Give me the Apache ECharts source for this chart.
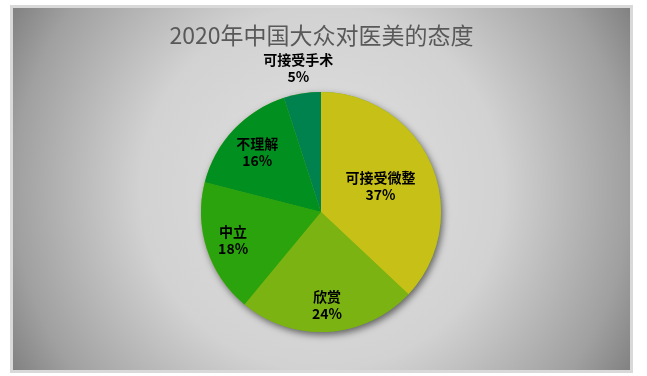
<!DOCTYPE html>
<html>
<head>
<meta charset="utf-8">
<script src="https://cdn.jsdelivr.net/npm/echarts@6/dist/echarts.min.js"></script>
<style>
  html, body { margin: 0; padding: 0; background: #fff; }
  #chart {
    position: absolute;
    left: 10px;
    top: 5px;
    width: 617px;
    height: 362px;
    border: 3px solid #d9d9d9;
  }
</style>
</head>
<body>
<div id="chart"></div>
<script>
const categories = ['可接受微整', '欣赏', '中立', '不理解', '可接受手术'];
const values = [37, 24, 18, 16, 5];
const colors = ['#c7c117', '#7bb312', '#2ba30c', '#01901f', '#00824f'];
const titleText = '2020年中国大众对医美的态度';

const el = document.getElementById('chart');
const chart = echarts.init(el);

const cx = 308, cy = 204, R = 120;
// how far out each label sits, as a share of the radius
const labelDist = [0.54, 0.78, 0.77, 0.73, 1.21];

const total = values.reduce((a, b) => a + b, 0);

const option = {
    animation: false,
    backgroundColor: {
        type: 'radial',
        x: 0.5, y: 0.5, r: 1,
        colorStops: [
            {offset: 0, color: '#e0e0e0'},
            {offset: 0.5, color: '#d2d2d2'},
            {offset: 0.85, color: '#a0a0a0'},
            {offset: 1, color: '#7f7f7f'}
        ]
    },
    title: {
        text: titleText,
        left: 'center',
        top: 11,
        textStyle: {
            fontFamily: 'Noto Sans CJK SC',
            fontSize: 23,
            fontWeight: 'normal',
            color: '#595959'
        }
    },
    series: [
        {
            // shadow under the whole pie
            type: 'pie',
            silent: true,
            center: [cx, cy],
            radius: R,
            label: {show: false},
            labelLine: {show: false},
            itemStyle: {
                color: colors[1],
                shadowBlur: 7,
                shadowOffsetX: 2,
                shadowOffsetY: 3,
                shadowColor: 'rgba(0,0,0,0.55)'
            },
            data: [{value: total}]
        },
        {
            type: 'pie',
            center: [cx, cy],
            radius: R,
            startAngle: 90,
            clockwise: true,
            label: {
                show: true,
                position: 'inside',
                formatter: '{b}\n{d}%',
                fontFamily: 'Noto Sans CJK SC',
                fontSize: 14,
                fontWeight: 'bold',
                lineHeight: 17,
                color: '#000'
            },
            labelLine: {show: false},
            labelLayout: function (params) {
                const r = params.labelRect;
                const lx = r.x + r.width / 2;
                const ly = r.y + r.height / 2;
                const dx0 = lx - cx, dy0 = ly - cy;
                const d = Math.sqrt(dx0 * dx0 + dy0 * dy0) || 1;
                const k = labelDist[params.dataIndex] * R / d - 1;
                return {dx: dx0 * k, dy: dy0 * k};
            },
            itemStyle: {borderWidth: 0},
            data: categories.map((name, i) => ({
                name: name,
                value: values[i],
                itemStyle: {color: colors[i]}
            }))
        }
    ]
};

chart.setOption(option);

window.addEventListener('resize', chart.resize.bind(chart));
</script>
</body>
</html>
